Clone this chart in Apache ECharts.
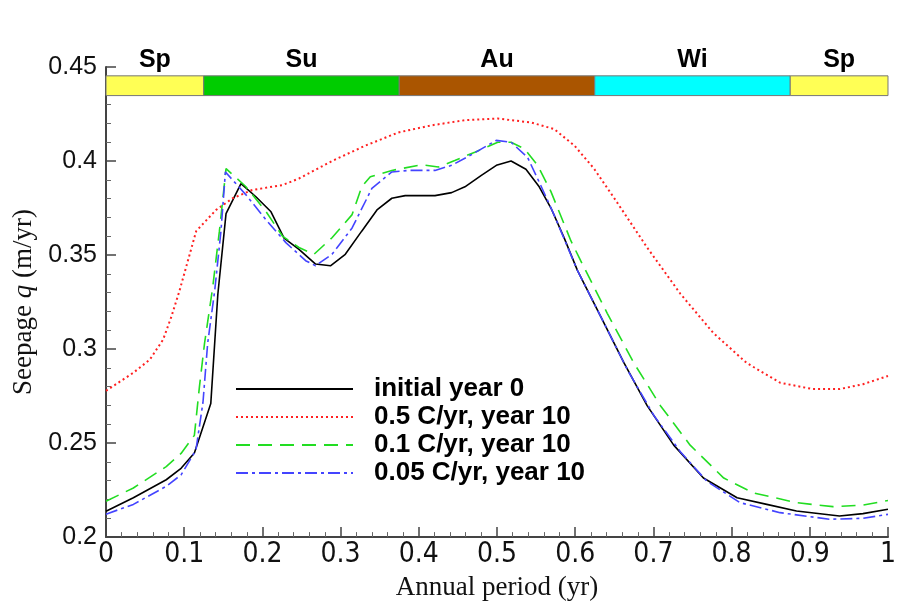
<!DOCTYPE html>
<html>
<head>
<meta charset="utf-8">
<script src="https://cdn.jsdelivr.net/npm/echarts@6/dist/echarts.min.js"></script>
<style>html,body{margin:0;padding:0;background:#fff}#c{width:899px;height:606px}</style>
</head>
<body>
<div id="c"></div>
<script>
// ---- Data ----
const seriesNames = ['initial year 0', '0.5 C/yr, year 10', '0.1 C/yr, year 10', '0.05 C/yr, year 10'];

const blackX = [0,0.035,0.077,0.096,0.113,0.134,0.143,0.1535,0.1726,0.1917,0.211,0.2277,0.2468,0.268,0.287,0.306,0.327,0.3465,0.3655,0.3826,0.4207,0.442,0.459,0.48,0.4992,0.518,0.537,0.554,0.569,0.586,0.603,0.6327,0.6624,0.692,0.726,0.764,0.807,0.845,0.883,0.938,0.968,1.0];
const blackY = [0.2137,0.2209,0.2305,0.2366,0.2447,0.271,0.329,0.372,0.388,0.381,0.373,0.359,0.353,0.3452,0.3443,0.3504,0.3627,0.374,0.3802,0.3816,0.3816,0.3832,0.3863,0.3924,0.3977,0.400,0.3956,0.3863,0.375,0.359,0.3417,0.3172,0.2926,0.2699,0.2489,0.2314,0.2209,0.2174,0.2139,0.2112,0.2125,0.2148];

const redX = [0,0.035,0.056,0.073,0.0836,0.094,0.1153,0.1408,0.162,0.187,0.2256,0.2468,0.289,0.3317,0.374,0.4165,0.459,0.501,0.5436,0.573,0.599,0.624,0.65,0.692,0.7345,0.777,0.8193,0.862,0.904,0.938,0.968,1.0];
const redY = [0.2778,0.2874,0.2944,0.305,0.3172,0.331,0.3627,0.374,0.3802,0.3846,0.3872,0.3907,0.400,0.4082,0.4152,0.419,0.4217,0.4226,0.4205,0.417,0.4082,0.396,0.3802,0.354,0.3294,0.3084,0.2926,0.2821,0.2787,0.2787,0.2813,0.2857];

const greenX = [0,0.035,0.077,0.096,0.113,0.1196,0.126,0.1365,0.145,0.1535,0.179,0.2045,0.2256,0.2468,0.266,0.289,0.3147,0.327,0.338,0.3655,0.4037,0.425,0.446,0.4716,0.501,0.518,0.535,0.552,0.569,0.5946,0.607,0.641,0.675,0.709,0.747,0.79,0.828,0.883,0.9296,0.968,1.0];
const greenY = [0.2191,0.2261,0.2375,0.2445,0.2541,0.2804,0.303,0.333,0.3627,0.396,0.3863,0.3732,0.3601,0.354,0.3504,0.3592,0.3715,0.3863,0.3916,0.395,0.398,0.3968,0.4003,0.4047,0.410,0.410,0.4065,0.3977,0.3837,0.3575,0.347,0.319,0.2926,0.2699,0.2489,0.2314,0.2235,0.2183,0.2162,0.217,0.2195];

const blueX = [0,0.035,0.077,0.096,0.115,0.124,0.130,0.139,0.147,0.1527,0.179,0.2045,0.23,0.2553,0.268,0.289,0.3147,0.34,0.3655,0.3868,0.4207,0.442,0.467,0.499,0.518,0.539,0.556,0.573,0.603,0.637,0.6667,0.7006,0.7345,0.7684,0.811,0.862,0.925,0.968,1.0];
const blueY = [0.2122,0.2174,0.227,0.2331,0.2463,0.2716,0.303,0.331,0.3627,0.3942,0.382,0.3688,0.3566,0.347,0.3443,0.3504,0.3644,0.3854,0.3942,0.395,0.395,0.3977,0.4033,0.411,0.410,0.402,0.387,0.3714,0.3417,0.3137,0.289,0.2647,0.2454,0.2297,0.2183,0.213,0.2095,0.210,0.2121];

const seasonNames = ['Sp', 'Su', 'Au', 'Wi', 'Sp'];
const seasonStart = [0, 0.125, 0.375, 0.625, 0.875];
const seasonEnd = [0.125, 0.375, 0.625, 0.875, 1.0];
const seasonColors = ['#ffff55', '#00cc00', '#aa5500', '#00ffff', '#ffff55'];
const seasonBarTop = 0.4453;
const seasonBarBottom = 0.4348;

const xTicks = { min: 0, max: 1, interval: 0.1 };
const yTicks = { min: 0.2, max: 0.45, interval: 0.05 };

// ---- Build ----
const zip = (xs, ys) => xs.map((x, i) => [x, ys[i]]);
const seasonData = seasonNames.map((n, i) => [seasonStart[i], seasonEnd[i], n, seasonColors[i]]);

const chart = echarts.init(document.getElementById('c'), null, { renderer: 'canvas' });

const mkLine = (name, data, color, type, width) => ({
  name, type: 'line', data, showSymbol: false, symbol: 'none', smooth: false,
  lineStyle: { color, type, width }, itemStyle: { color, opacity: 0 }, z: 3
});

chart.setOption({
  animation: false,
  backgroundColor: '#ffffff',
  grid: { left: 106, right: 7, top: 67, bottom: 62.5 },
  legend: {
    data: seriesNames,
    orient: 'vertical',
    left: 230, top: 370,
    itemWidth: 117, itemHeight: 14, itemGap: 0,
    itemStyle: { opacity: 0 },
    textStyle: { fontFamily: 'Liberation Sans, Arial, sans-serif', fontWeight: 'bold', fontSize: 26, color: '#000', lineHeight: 28, padding: [0, 0, 0, 16] }
  },
  xAxis: {
    type: 'value', min: xTicks.min, max: xTicks.max, interval: xTicks.interval,
    name: 'Annual period (yr)', nameLocation: 'middle', nameGap: 31,
    nameTextStyle: { fontFamily: 'Liberation Serif, Times New Roman, serif', fontSize: 27, color: '#111' },
    axisLine: { show: true, lineStyle: { color: '#444', width: 2 } },
    axisTick: { show: true, inside: true, length: 10, lineStyle: { color: '#444', width: 1.5 } },
    minorTick: { show: true, splitNumber: 5, length: 5, lineStyle: { color: '#666', width: 1 } },
    splitLine: { show: false },
    axisLabel: { fontFamily: 'Liberation Sans Narrow, DejaVu Sans Condensed, Liberation Sans, Arial, sans-serif', fontSize: 28, color: '#111', margin: 4,
      formatter: v => String(Math.round(v * 10) / 10) }
  },
  yAxis: {
    type: 'value', min: yTicks.min, max: yTicks.max, interval: yTicks.interval,
    name: 'Seepage {i|q} (m/yr)', nameLocation: 'middle', nameGap: 56, nameRotate: 90,
    nameTextStyle: { fontFamily: 'Liberation Serif, Times New Roman, serif', fontSize: 27, color: '#111',
      rich: { i: { fontFamily: 'Liberation Serif, Times New Roman, serif', fontSize: 27, fontStyle: 'italic', color: '#111' } } },
    axisLine: { show: true, lineStyle: { color: '#444', width: 2 } },
    axisTick: { show: true, inside: true, length: 10, lineStyle: { color: '#444', width: 1.5 } },
    minorTick: { show: true, splitNumber: 5, length: 5, lineStyle: { color: '#666', width: 1 } },
    splitLine: { show: false },
    axisLabel: { fontFamily: 'Liberation Sans, Arial, sans-serif', fontSize: 25, color: '#111', margin: 9,
      formatter: v => String(Math.round(v * 100) / 100) }
  },
  series: [
    mkLine(seriesNames[0], zip(blackX, blackY), '#000000', 'solid', 1.6),
    mkLine(seriesNames[1], zip(redX, redY), '#ff2020', [2, 3], 2),
    mkLine(seriesNames[2], zip(greenX, greenY), '#22dd22', [14, 8], 1.6),
    mkLine(seriesNames[3], zip(blueX, blueY), '#4444ff', [12, 4, 3, 4], 1.6),
    {
      type: 'custom', name: 'seasons', clip: false, silent: true, z: 5,
      data: seasonData,
      encode: { x: [0, 1] },
      renderItem: (params, api) => {
        const p0 = api.coord([api.value(0), seasonBarTop]);
        const p1 = api.coord([api.value(1), seasonBarBottom]);
        const color = seasonColors[params.dataIndex];
        return {
          type: 'group',
          children: [
            { type: 'rect', shape: { x: p0[0], y: p0[1], width: p1[0] - p0[0], height: p1[1] - p0[1] },
              style: { fill: color, stroke: '#777', lineWidth: 1 } },
            { type: 'text', x: (p0[0] + p1[0]) / 2, y: p0[1] - 16,
              style: { text: seasonNames[params.dataIndex], fill: '#000', font: 'bold 25px "Liberation Sans", Arial, sans-serif', align: 'center', verticalAlign: 'middle' } }
          ]
        };
      }
    }
  ]
});
</script>
</body>
</html>
